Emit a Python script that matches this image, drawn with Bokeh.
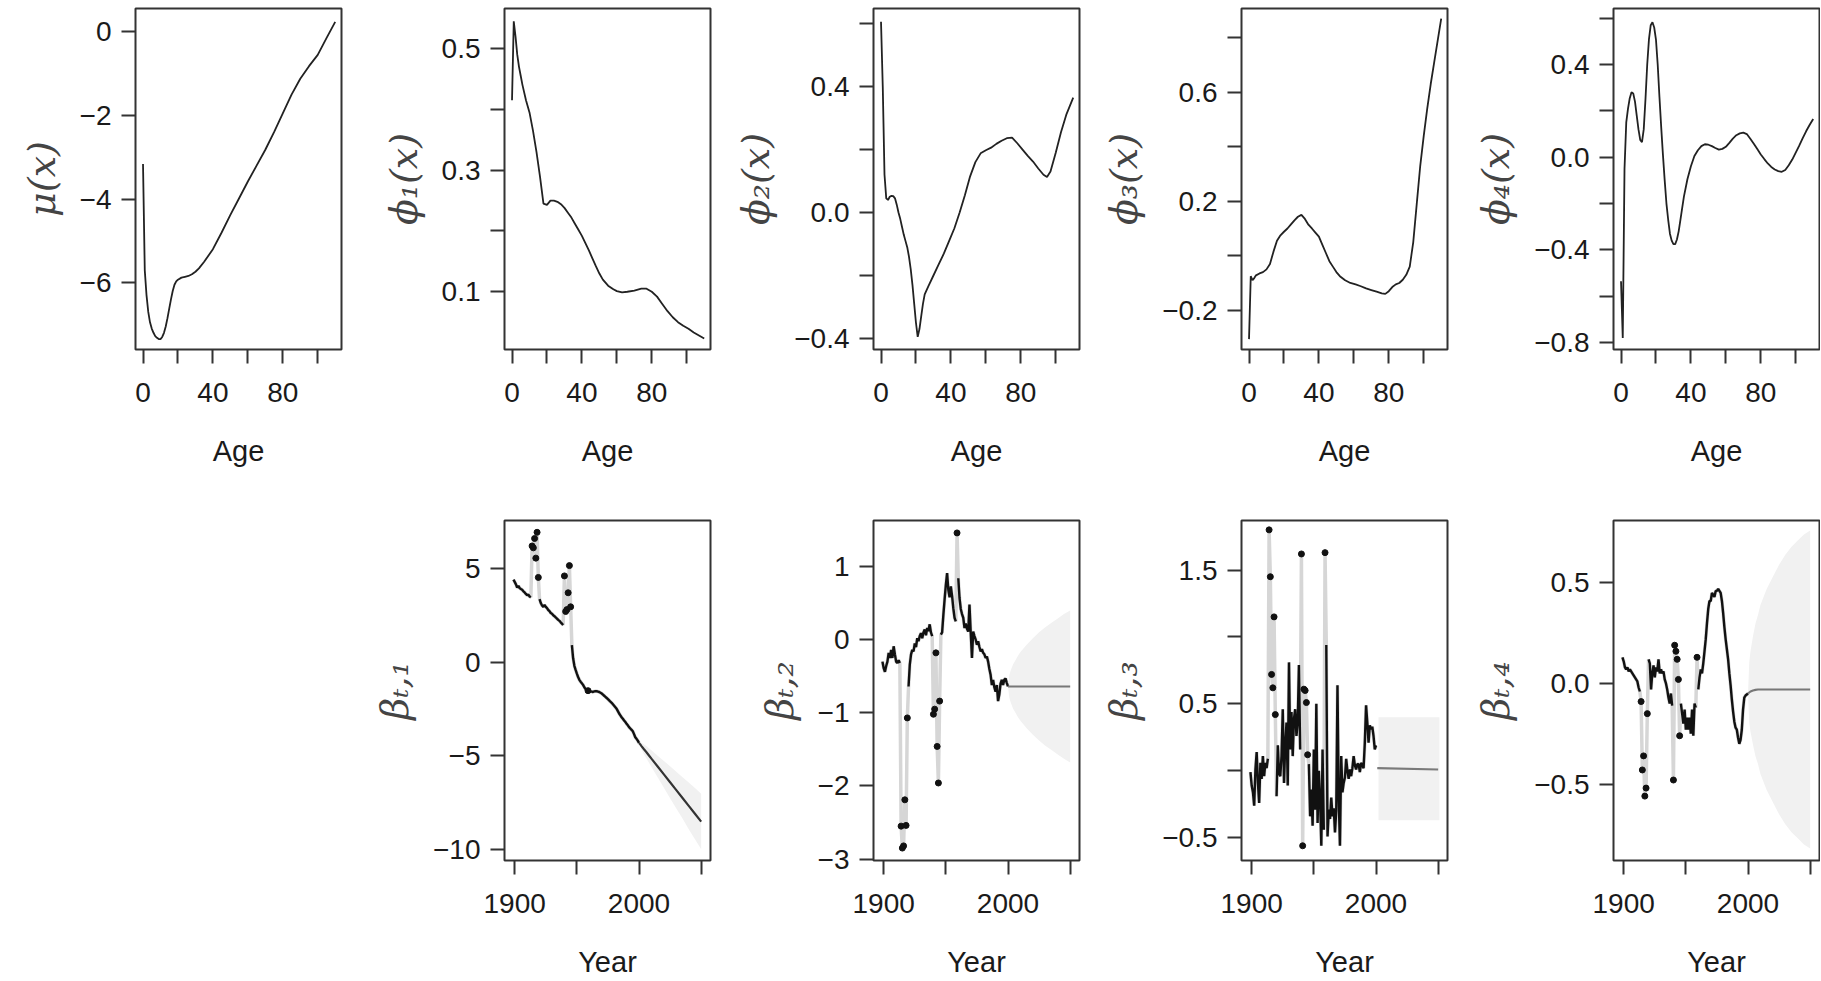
import math
from bokeh.plotting import figure
from bokeh.layouts import row, column, Spacer
from bokeh.models import Range1d, FixedTicker
from bokeh.embed import file_html
from bokeh.resources import INLINE

# ---------------- top row: age components ----------------
ages_mu = [0, 1, 2, 3, 4, 5, 6, 7, 8, 9, 10, 11, 12, 13, 14, 15, 16, 17, 18, 19, 20,
           22, 24, 26, 28, 30, 32, 35, 38, 40, 45, 50, 55, 60, 65, 70, 75, 80, 85, 90,
           95, 100, 105, 110]
mu = [-3.16, -5.7, -6.3, -6.7, -6.95, -7.1, -7.2, -7.28, -7.32, -7.35, -7.35, -7.3, -7.2,
      -7.05, -6.85, -6.62, -6.4, -6.2, -6.05, -5.97, -5.93, -5.88, -5.86, -5.84, -5.8,
      -5.74, -5.66, -5.5, -5.32, -5.2, -4.8, -4.38, -3.98, -3.58, -3.2, -2.82, -2.4,
      -1.95, -1.5, -1.12, -0.82, -0.55, -0.15, 0.24]

ages_phi1 = [0, 1, 2, 3, 4, 5, 6, 8, 10, 12, 14, 16, 18, 20, 22, 24, 26, 28, 30, 32, 34,
             36, 38, 40, 42, 44, 46, 48, 50, 52, 55, 58, 60, 63, 66, 70, 74, 77, 80, 83,
             86, 89, 92, 95, 98, 101, 104, 107, 110]
phi1 = [0.415, 0.545, 0.52, 0.49, 0.47, 0.455, 0.44, 0.415, 0.395, 0.365, 0.33, 0.29,
        0.245, 0.243, 0.25, 0.25, 0.248, 0.244, 0.238, 0.23, 0.222, 0.212, 0.202, 0.192,
        0.18, 0.168, 0.155, 0.142, 0.13, 0.12, 0.11, 0.104, 0.101, 0.099, 0.1, 0.102,
        0.105, 0.105, 0.1, 0.092, 0.08, 0.068, 0.058, 0.05, 0.044, 0.039, 0.033, 0.028,
        0.023]

ages_phi2 = [0, 1, 2, 3, 4, 5, 6, 7, 8, 9, 10, 11, 12, 13, 14, 15, 16, 17, 18, 19, 20,
             21, 22, 23, 24, 25, 27, 30, 33, 36, 39, 42, 45, 48, 51, 54, 57, 60, 63, 66,
             69, 72, 75, 78, 81, 84, 87, 90, 93, 95, 97, 100, 103, 106, 110]
phi2 = [0.606, 0.4, 0.12, 0.045, 0.04, 0.05, 0.053, 0.052, 0.045, 0.025, 0.0, -0.02,
        -0.045, -0.07, -0.09, -0.11, -0.14, -0.18, -0.23, -0.29, -0.35, -0.395, -0.37,
        -0.33, -0.29, -0.26, -0.235, -0.2, -0.165, -0.13, -0.09, -0.05, 0.0, 0.055,
        0.115, 0.16, 0.188, 0.198, 0.206, 0.218, 0.228, 0.236, 0.238, 0.22, 0.2, 0.18,
        0.162, 0.14, 0.12, 0.113, 0.13, 0.19, 0.255, 0.31, 0.365]

ages_phi3 = [0, 1, 2, 3, 4, 6, 8, 10, 12, 14, 16, 18, 20, 22, 24, 26, 28, 30, 32, 34, 36,
             38, 40, 42, 44, 46, 48, 50, 52, 55, 58, 61, 64, 67, 70, 73, 76, 78, 80, 82,
             84, 86, 88, 90, 92, 94, 96, 98, 100, 102, 104, 106, 108, 110]
phi3 = [-0.306, -0.075, -0.09, -0.082, -0.072, -0.065, -0.06, -0.05, -0.03, 0.015, 0.055,
        0.075, 0.088, 0.1, 0.115, 0.13, 0.143, 0.15, 0.135, 0.114, 0.1, 0.085, 0.07, 0.04,
        0.01, -0.02, -0.04, -0.06, -0.075, -0.09, -0.1, -0.105, -0.112, -0.12, -0.126,
        -0.132, -0.138, -0.14, -0.13, -0.115, -0.105, -0.1, -0.088, -0.07, -0.04, 0.05,
        0.19, 0.33, 0.44, 0.54, 0.63, 0.71, 0.79, 0.87]

ages_phi4 = [0, 1, 2, 3, 4, 5, 6, 7, 8, 9, 10, 11, 12, 13, 14, 15, 16, 17, 18, 19, 20,
             21, 22, 23, 24, 25, 26, 27, 28, 29, 30, 31, 32, 33, 34, 35, 36, 38, 40, 42,
             44, 46, 48, 50, 52, 54, 56, 58, 60, 62, 64, 66, 68, 70, 72, 74, 76, 78, 80,
             82, 84, 86, 88, 90, 92, 94, 96, 98, 100, 102, 104, 106, 108, 110]
phi4 = [-0.535, -0.78, -0.05, 0.15, 0.21, 0.255, 0.28, 0.275, 0.24, 0.18, 0.12, 0.075,
        0.065, 0.12, 0.25, 0.4, 0.51, 0.57, 0.583, 0.56, 0.508, 0.4, 0.26, 0.13, 0.01,
        -0.1, -0.2, -0.27, -0.33, -0.36, -0.375, -0.375, -0.355, -0.32, -0.27, -0.22,
        -0.17, -0.095, -0.039, 0.005, 0.03, 0.048, 0.056, 0.054, 0.048, 0.04, 0.033,
        0.036, 0.045, 0.062, 0.08, 0.095, 0.103, 0.106, 0.1, 0.08, 0.058, 0.035, 0.012,
        -0.008, -0.027, -0.042, -0.053, -0.06, -0.063, -0.055, -0.035, -0.01, 0.02, 0.05,
        0.082, 0.113, 0.14, 0.165]

# ---------------- bottom row: time coefficients ----------------
years = list(range(1899, 2001))
outlier_years = [1914, 1915, 1916, 1917, 1918, 1919, 1940, 1941, 1942, 1943, 1944, 1945, 1959]

beta1 = [4.40, 4.28, 4.15, 3.98, 4.07, 3.95, 3.90, 3.86, 3.78, 3.72,
         3.64, 3.57, 3.60, 3.50, 3.46, 6.20, 6.10, 6.60, 5.55, 6.93,
         4.52, 3.36, 3.15, 3.02, 2.95, 3.05, 2.95, 2.88, 2.78, 2.72,
         2.62, 2.58, 2.50, 2.45, 2.38, 2.32, 2.25, 2.20, 2.12, 2.05,
         1.98, 4.60, 2.70, 2.80, 3.70, 5.15, 2.95, 0.90, 0.20, -0.20,
         -0.42, -0.62, -0.80, -0.95, -1.05, -1.13, -1.22, -1.35, -1.44, -1.50,
         -1.53, -1.55, -1.57, -1.58, -1.60, -1.57, -1.55, -1.56, -1.58, -1.60,
         -1.64, -1.68, -1.74, -1.80, -1.86, -1.92, -1.98, -2.05, -2.12, -2.18,
         -2.26, -2.34, -2.42, -2.50, -2.62, -2.75, -2.85, -2.95, -3.03, -3.12,
         -3.20, -3.30, -3.38, -3.48, -3.55, -3.62, -3.70, -3.85, -4.02, -4.10,
         -4.20, -4.32]
beta2 = [-0.30, -0.39, -0.44, -0.36, -0.30, -0.18, -0.25, -0.14, -0.25, -0.09,
         -0.20, -0.30, -0.32, -0.28, -0.32, -2.55, -2.85, -2.82, -2.19, -2.54,
         -1.07, -0.64, -0.34, -0.20, -0.14, -0.16, -0.05, -0.10, 0.02, -0.02,
         0.05, 0.09, 0.02, 0.10, 0.14, 0.06, 0.16, 0.12, 0.21, 0.10,
         0.05, -1.02, -0.95, -0.18, -1.46, -1.96, -0.84, 0.07, 0.10, 0.34,
         0.55, 0.75, 0.91, 0.68, 0.58, 0.73, 0.60, 0.43, 0.30, 0.25,
         1.46, 0.84, 0.57, 0.42, 0.35, 0.30, 0.16, 0.22, 0.15, 0.11,
         0.48, 0.10, -0.25, 0.11, 0.05, 0.00, -0.07, -0.02, -0.10, -0.16,
         -0.13, -0.18, -0.20, -0.25, -0.23, -0.30, -0.40, -0.48, -0.62, -0.55,
         -0.65, -0.71, -0.62, -0.84, -0.75, -0.60, -0.55, -0.62, -0.55, -0.53,
         -0.59, -0.64]
beta3 = [-0.01, -0.11, -0.16, -0.26, 0.01, 0.14, -0.09, -0.24, 0.06, -0.06,
         0.11, -0.04, 0.06, 0.02, 0.09, 1.80, 1.45, 0.72, 0.62, 1.15,
         0.42, -0.19, 0.19, -0.02, -0.04, 0.11, 0.46, -0.09, 0.20, 0.36,
         -0.11, 0.81, 0.16, 0.44, 0.11, 0.39, 0.46, 0.26, 0.36, 0.79,
         0.16, 1.62, -0.56, 0.61, 0.60, 0.51, 0.12, 0.05, -0.34, -0.14,
         -0.41, 0.16, -0.29, 0.50, -0.39, 0.00, -0.21, -0.56, 0.16, -0.44,
         1.63, 0.94, -0.49, -0.29, -0.36, -0.20, -0.34, -0.28, -0.46, -0.30,
         0.64, -0.21, -0.56, 0.11, -0.16, -0.09, -0.05, 0.09, 0.00, -0.06,
         0.01, -0.04, 0.02, 0.11, 0.04, 0.01, 0.05, 0.05, -0.01, 0.06,
         0.04, 0.02, 0.21, 0.49, 0.36, 0.21, 0.34, 0.31, 0.33, 0.26,
         0.16, 0.19]
beta4 = [0.13, 0.11, 0.08, 0.07, 0.08, 0.06, 0.07, 0.06, 0.05, 0.04,
         0.03, 0.02, 0.01, -0.02, -0.04, -0.09, -0.43, -0.36, -0.56, -0.52,
         -0.15, 0.12, 0.10, -0.03, 0.05, 0.09, 0.03, 0.08, 0.06, 0.12,
         0.05, 0.07, 0.05, 0.06, 0.02, 0.00, -0.03, -0.07, -0.10, -0.05,
         -0.11, -0.48, 0.19, 0.16, 0.12, 0.02, -0.26, -0.10, -0.15, -0.20,
         -0.13, -0.23, -0.17, -0.23, -0.17, -0.25, -0.13, -0.26, -0.10, -0.12,
         0.13, -0.03, 0.03, 0.07, 0.05, 0.10, 0.16, 0.22, 0.30, 0.37,
         0.41, 0.41, 0.45, 0.44, 0.43, 0.46, 0.46, 0.47, 0.46, 0.45,
         0.41, 0.35, 0.28, 0.22, 0.17, 0.12, 0.05, -0.01, -0.08, -0.14,
         -0.19, -0.22, -0.23, -0.27, -0.30, -0.28, -0.23, -0.13, -0.07, -0.06,
         -0.055, -0.05]

# forecasts with prediction intervals
fyears = [2000, 2001, 2002, 2004, 2006, 2008, 2010, 2015, 2020, 2025, 2030, 2035, 2040, 2045, 2050]
f1_mean = [-4.32, -4.40, -4.49, -4.66, -4.82, -4.99, -5.16, -5.58, -6.00, -6.42, -6.84, -7.26, -7.68, -8.10, -8.52]
f1_up = [-4.32, -4.28, -4.31, -4.40, -4.49, -4.60, -4.71, -5.00, -5.28, -5.57, -5.86, -6.16, -6.43, -6.73, -7.04]
f1_lo = [-4.32, -4.52, -4.67, -4.92, -5.15, -5.38, -5.61, -6.16, -6.72, -7.27, -7.82, -8.36, -8.93, -9.47, -10.0]
f2_mean = [-0.64, -0.64, -0.64, -0.64, -0.64, -0.64, -0.64, -0.64, -0.64, -0.64, -0.64, -0.64, -0.64, -0.64, -0.64]
f2_up = [-0.64, -0.49, -0.43, -0.34, -0.28, -0.22, -0.17, -0.07, 0.02, 0.10, 0.17, 0.23, 0.29, 0.35, 0.40]
f2_lo = [-0.64, -0.79, -0.85, -0.94, -1.00, -1.06, -1.11, -1.21, -1.30, -1.38, -1.45, -1.51, -1.57, -1.63, -1.68]
f3_years = [2001, 2050]
f3_mean = [0.02, 0.01]
f3_band_years = [2002, 2051]
f3_up = [0.40, 0.40]
f3_lo = [-0.37, -0.37]
f4_mean = [-0.05, -0.045, -0.04, -0.035, -0.032, -0.03, -0.03, -0.03, -0.03, -0.03, -0.03, -0.03, -0.03, -0.03, -0.03]
f4_up = [-0.05, 0.105, 0.16, 0.235, 0.298, 0.34, 0.39, 0.47, 0.53, 0.59, 0.64, 0.68, 0.71, 0.74, 0.76]
f4_lo = [-0.05, -0.195, -0.24, -0.305, -0.362, -0.40, -0.45, -0.53, -0.59, -0.65, -0.70, -0.74, -0.77, -0.80, -0.82]

age_ticks = [0, 20, 40, 60, 80, 100]
age_labels = ["0", "", "40", "", "80", ""]
year_ticks = [1900, 1950, 2000, 2050]
year_labels = ["1900", "", "2000", ""]

FONT = "Liberation Sans"
MATH_FONT = "DejaVu Serif"
M = "\u2212"

FRAME_W = 206


def make_fig(xr, yr, xticks, xlabels, yticks, ylabels, xlabel, ylabel,
             left, right, top, bottom, frame_h):
    p = figure(frame_width=FRAME_W, frame_height=frame_h,
               x_range=Range1d(*xr), y_range=Range1d(*yr),
               output_backend="svg", toolbar_location=None,
               min_border_left=left, min_border_right=right,
               min_border_top=top, min_border_bottom=bottom,
               background_fill_color="white", border_fill_color="white")
    p.outline_line_color = "#333333"
    p.outline_line_width = 2
    p.xgrid.visible = False
    p.ygrid.visible = False
    for ax, ticks, labels in ((p.xaxis[0], xticks, xlabels), (p.yaxis[0], yticks, ylabels)):
        ax.ticker = FixedTicker(ticks=ticks, minor_ticks=[])
        ax.major_label_overrides = {t: l for t, l in zip(ticks, labels)}
        ax.axis_line_color = None
        ax.major_tick_in = 0
        ax.major_tick_out = 14
        ax.major_tick_line_color = "#333333"
        ax.major_tick_line_width = 2
        ax.minor_tick_line_color = None
        ax.major_label_text_font = FONT
        ax.major_label_text_font_size = "28px"
        ax.major_label_text_color = "#1a1a1a"
    xa = p.xaxis[0]
    xa.major_label_standoff = 19
    xa.axis_label = xlabel
    xa.axis_label_text_font = FONT
    xa.axis_label_text_font_style = "normal"
    xa.axis_label_text_font_size = "29px"
    xa.axis_label_text_color = "#1a1a1a"
    xa.axis_label_standoff = 30
    ya = p.yaxis[0]
    ya.major_label_standoff = 10
    ya.axis_label = ylabel
    ya.axis_label_text_font = MATH_FONT
    ya.axis_label_text_font_style = "italic"
    ya.axis_label_text_font_size = "38px"
    ya.axis_label_text_color = "#444444"
    ya.axis_label_standoff = 13
    return p


AGE_R = (-4.3, 113.6)
YEAR_R = (1891.8, 2057.5)
LEFTS = [135, 143, 143, 143, 143]
RIGHTS = [20, 20, 19, 23, 1]
TOP1, FH1, BOT1 = 8, 341, 120
TOP2, FH2, BOT2 = 51, 340, 120

top_specs = [
    (ages_mu, mu, (-7.6, 0.56), [-6, -4, -2, 0], [M + "6", M + "4", M + "2", "0"], "\u03bc(x)"),
    (ages_phi1, phi1, (0.005, 0.566), [0.1, 0.2, 0.3, 0.4, 0.5], ["0.1", "", "0.3", "", "0.5"], "\u03d5\u2081(x)"),
    (ages_phi2, phi2, (-0.435, 0.648), [-0.4, -0.2, 0, 0.2, 0.4, 0.6],
     [M + "0.4", "", "0.0", "", "0.4", ""], "\u03d5\u2082(x)"),
    (ages_phi3, phi3, (-0.344, 0.907), [-0.2, 0, 0.2, 0.4, 0.6, 0.8],
     [M + "0.2", "", "0.2", "", "0.6", ""], "\u03d5\u2083(x)"),
    (ages_phi4, phi4, (-0.83, 0.642), [-0.8, -0.6, -0.4, -0.2, 0, 0.2, 0.4, 0.6],
     [M + "0.8", "", M + "0.4", "", "0.0", "", "0.4", ""], "\u03d5\u2084(x)"),
]

top_figs = []
for i, (ax_, ay_, yr, yt, yl, lab) in enumerate(top_specs):
    p = make_fig(AGE_R, yr, age_ticks, age_labels, yt, yl, "Age", lab,
                 LEFTS[i], RIGHTS[i], TOP1, BOT1, FH1)
    p.line(ax_, ay_, line_color="#222222", line_width=1.8)
    top_figs.append(p)

bottom_specs = [
    (beta1, (-10.6, 7.56), [-10, -5, 0, 5], [M + "10", M + "5", "0", "5"], "\u03b2\u209c,\u2081",
     fyears, f1_mean, fyears, f1_up, f1_lo, "#333333"),
    (beta2, (-3.02, 1.63), [-3, -2, -1, 0, 1], [M + "3", M + "2", M + "1", "0", "1"], "\u03b2\u209c,\u2082",
     fyears, f2_mean, fyears, f2_up, f2_lo, "#777777"),
    (beta3, (-0.67, 1.87), [-0.5, 0, 0.5, 1.0, 1.5], [M + "0.5", "", "0.5", "", "1.5"], "\u03b2\u209c,\u2083",
     f3_years, f3_mean, f3_band_years, f3_up, f3_lo, "#7a7a7a"),
    (beta4, (-0.88, 0.81), [-0.5, 0, 0.5], [M + "0.5", "0.0", "0.5"], "\u03b2\u209c,\u2084",
     fyears, f4_mean, fyears, f4_up, f4_lo, "#777777"),
]

bottom_figs = []
for i, (vals, yr, yt, yl, lab, fx, fm, bx, bu, bl, fcol) in enumerate(bottom_specs):
    p = make_fig(YEAR_R, yr, year_ticks, year_labels, yt, yl, "Year", lab,
                 LEFTS[i + 1], RIGHTS[i + 1], TOP2, BOT2, FH2)
    p.varea(x=bx, y1=bl, y2=bu, fill_color="#f1f1f1", fill_alpha=1.0)
    # full series (incl. outlying years) in light grey
    p.line(years, vals, line_color="#d6d6d6", line_width=3.5)
    # regular years in black
    black = [float("nan") if y in outlier_years else v for y, v in zip(years, vals)]
    p.line(years, black, line_color="#111111", line_width=2.4)
    ox = [y for y in years if y in outlier_years]
    oy = [v for y, v in zip(years, vals) if y in outlier_years]
    p.scatter(ox, oy, size=6, marker="circle", fill_color="#111111", line_color="#111111")
    p.line(fx, fm, line_color=fcol, line_width=2.2)
    bottom_figs.append(p)

spacer = Spacer(width=LEFTS[0] + FRAME_W + RIGHTS[0], height=TOP2 + FH2 + BOT2)
layout = column(row(*top_figs), row(spacer, *bottom_figs))

open("out.html", "w").write(file_html(layout, INLINE))
